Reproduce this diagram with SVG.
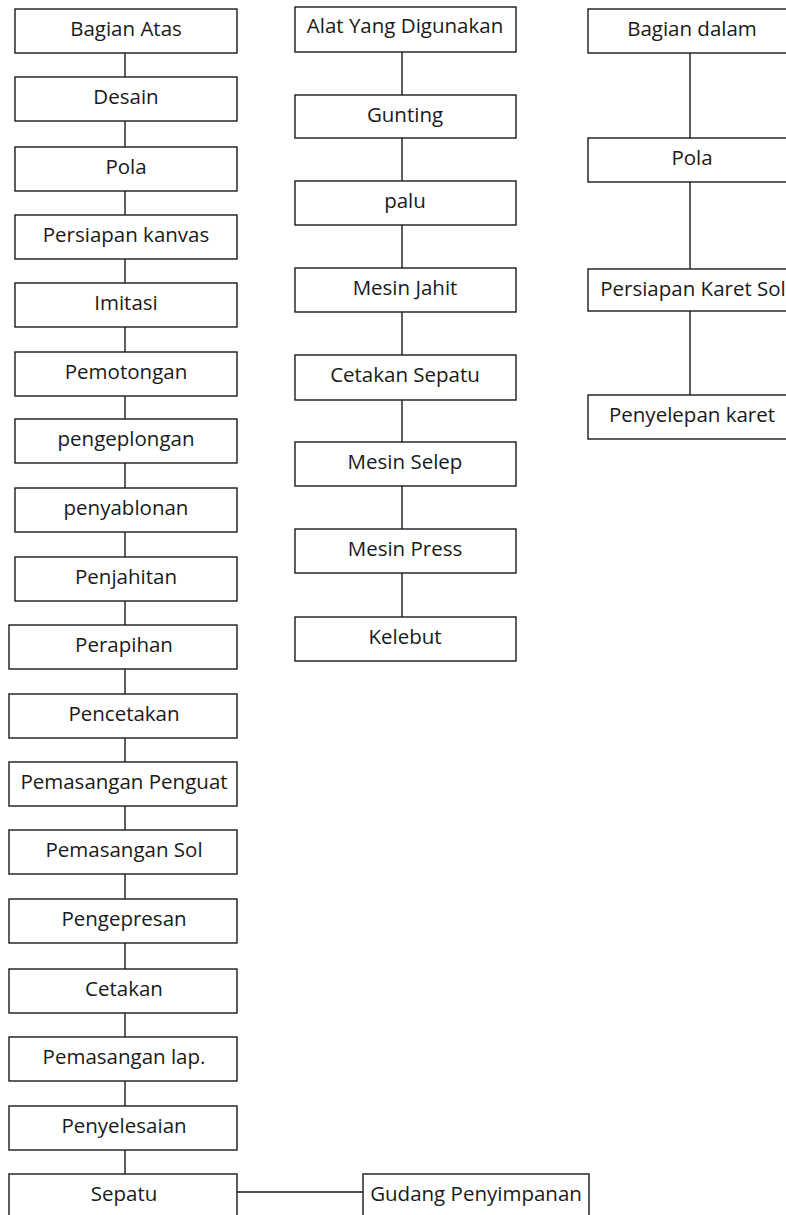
<svg xmlns="http://www.w3.org/2000/svg" width="786" height="1215" viewBox="0 0 786 1215">
<style>
.b{fill:#fff;stroke:#1a1a1a;stroke-width:1.4}
.t{font-family:"Open Sans","Liberation Sans",sans-serif;font-size:20.5px;fill:#1a1a1a;text-anchor:middle}
.c line{stroke:#1a1a1a;stroke-width:1.4}
</style>
<rect width="786" height="1215" fill="#fff"/>
<g class="c" id="connectors">
<line x1="125" y1="53" x2="125" y2="77"/>
<line x1="125" y1="121" x2="125" y2="147"/>
<line x1="125" y1="191" x2="125" y2="215"/>
<line x1="125" y1="259" x2="125" y2="283"/>
<line x1="125" y1="327" x2="125" y2="352"/>
<line x1="125" y1="396" x2="125" y2="419"/>
<line x1="125" y1="463" x2="125" y2="488"/>
<line x1="125" y1="532" x2="125" y2="557"/>
<line x1="125" y1="601" x2="125" y2="625"/>
<line x1="125" y1="669" x2="125" y2="694"/>
<line x1="125" y1="738" x2="125" y2="762"/>
<line x1="125" y1="806" x2="125" y2="830"/>
<line x1="125" y1="874" x2="125" y2="899"/>
<line x1="125" y1="943" x2="125" y2="969"/>
<line x1="125" y1="1013" x2="125" y2="1037"/>
<line x1="125" y1="1081" x2="125" y2="1106"/>
<line x1="125" y1="1150" x2="125" y2="1174"/>
<line x1="237" y1="1192" x2="363" y2="1192"/>
<line x1="402" y1="52" x2="402" y2="95"/>
<line x1="402" y1="138" x2="402" y2="181"/>
<line x1="402" y1="225" x2="402" y2="268"/>
<line x1="402" y1="312" x2="402" y2="355"/>
<line x1="402" y1="400" x2="402" y2="442"/>
<line x1="402" y1="486" x2="402" y2="529"/>
<line x1="402" y1="573" x2="402" y2="617"/>
<line x1="690" y1="53" x2="690" y2="138"/>
<line x1="690" y1="182" x2="690" y2="269"/>
<line x1="690" y1="311" x2="690" y2="395"/>
</g>
<g id="n1"><rect class="b" x="15" y="9" width="222" height="44"/><text class="t" x="126" y="36">Bagian Atas</text></g>
<g id="n2"><rect class="b" x="15" y="77" width="222" height="44"/><text class="t" x="126" y="104">Desain</text></g>
<g id="n3"><rect class="b" x="15" y="147" width="222" height="44"/><text class="t" x="126" y="174">Pola</text></g>
<g id="n4"><rect class="b" x="15" y="215" width="222" height="44"/><text class="t" x="126" y="242">Persiapan kanvas</text></g>
<g id="n5"><rect class="b" x="15" y="283" width="222" height="44"/><text class="t" x="126" y="310">Imitasi</text></g>
<g id="n6"><rect class="b" x="15" y="352" width="222" height="44"/><text class="t" x="126" y="379">Pemotongan</text></g>
<g id="n7"><rect class="b" x="15" y="419" width="222" height="44"/><text class="t" x="126" y="446">pengeplongan</text></g>
<g id="n8"><rect class="b" x="15" y="488" width="222" height="44"/><text class="t" x="126" y="515">penyablonan</text></g>
<g id="n9"><rect class="b" x="15" y="557" width="222" height="44"/><text class="t" x="126" y="584">Penjahitan</text></g>
<g id="n10"><rect class="b" x="9" y="625" width="228" height="44"/><text class="t" x="124" y="652">Perapihan</text></g>
<g id="n11"><rect class="b" x="9" y="694" width="228" height="44"/><text class="t" x="124" y="721">Pencetakan</text></g>
<g id="n12"><rect class="b" x="9" y="762" width="228" height="44"/><text class="t" x="124" y="789">Pemasangan Penguat</text></g>
<g id="n13"><rect class="b" x="9" y="830" width="228" height="44"/><text class="t" x="124" y="857">Pemasangan Sol</text></g>
<g id="n14"><rect class="b" x="9" y="899" width="228" height="44"/><text class="t" x="124" y="926">Pengepresan</text></g>
<g id="n15"><rect class="b" x="9" y="969" width="228" height="44"/><text class="t" x="124" y="996">Cetakan</text></g>
<g id="n16"><rect class="b" x="9" y="1037" width="228" height="44"/><text class="t" x="124" y="1064">Pemasangan lap.</text></g>
<g id="n17"><rect class="b" x="9" y="1106" width="228" height="44"/><text class="t" x="124" y="1133">Penyelesaian</text></g>
<g id="n18"><rect class="b" x="9" y="1174" width="228" height="50"/><text class="t" x="124" y="1201">Sepatu</text></g>
<g id="n19"><rect class="b" x="363" y="1174" width="226" height="50"/><text class="t" x="476" y="1201">Gudang Penyimpanan</text></g>
<g id="m1"><rect class="b" x="295" y="7" width="221" height="45"/><text class="t" x="405" y="33">Alat Yang Digunakan</text></g>
<g id="m2"><rect class="b" x="295" y="95" width="221" height="43"/><text class="t" x="405" y="122">Gunting</text></g>
<g id="m3"><rect class="b" x="295" y="181" width="221" height="44"/><text class="t" x="405" y="208">palu</text></g>
<g id="m4"><rect class="b" x="295" y="268" width="221" height="44"/><text class="t" x="405" y="295">Mesin Jahit</text></g>
<g id="m5"><rect class="b" x="295" y="355" width="221" height="45"/><text class="t" x="405" y="382">Cetakan Sepatu</text></g>
<g id="m6"><rect class="b" x="295" y="442" width="221" height="44"/><text class="t" x="405" y="469">Mesin Selep</text></g>
<g id="m7"><rect class="b" x="295" y="529" width="221" height="44"/><text class="t" x="405" y="556">Mesin Press</text></g>
<g id="m8"><rect class="b" x="295" y="617" width="221" height="44"/><text class="t" x="405" y="644">Kelebut</text></g>
<g id="r1"><rect class="b" x="588" y="9" width="210" height="44"/><text class="t" x="692" y="36">Bagian dalam</text></g>
<g id="r2"><rect class="b" x="588" y="138" width="210" height="44"/><text class="t" x="692" y="165">Pola</text></g>
<g id="r3"><rect class="b" x="588" y="269" width="210" height="42"/><text class="t" x="693" y="296">Persiapan Karet Sol</text></g>
<g id="r4"><rect class="b" x="588" y="395" width="210" height="44"/><text class="t" x="692" y="422">Penyelepan karet</text></g>
</svg>
